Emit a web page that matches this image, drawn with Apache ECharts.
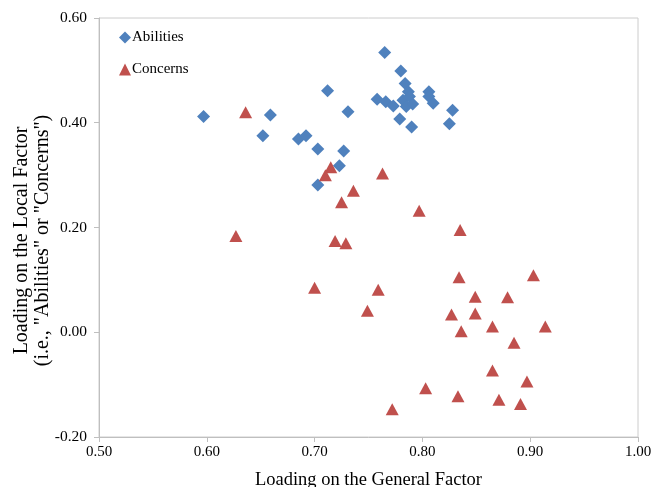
<!DOCTYPE html>
<html><head><meta charset="utf-8">
<script src="https://cdn.jsdelivr.net/npm/echarts@6/dist/echarts.min.js"></script>
<style>html,body{margin:0;padding:0;background:#fff}#c{width:655px;height:487px}</style>
</head><body><div id="c"></div>
<script>
const seriesNames = ['Abilities', 'Concerns'];
const xTicks = ['0.50','0.60','0.70','0.80','0.90','1.00'];
const yTicks = ['-0.20','0.00','0.20','0.40','0.60'];
const abilitiesX = [0.597,0.659,0.652,0.685,0.692,0.703,0.712,0.731,0.727,0.723,0.703,0.765,0.780,0.784,0.787,0.758,0.766,0.773,0.782,0.788,0.785,0.791,0.779,0.790,0.806,0.806,0.810,0.828,0.825];
const abilitiesY = [0.412,0.415,0.375,0.369,0.375,0.350,0.461,0.421,0.346,0.318,0.281,0.534,0.499,0.475,0.459,0.445,0.440,0.432,0.443,0.450,0.431,0.436,0.407,0.392,0.459,0.450,0.437,0.424,0.398];
const concernsX = [0.636,0.715,0.710,0.763,0.736,0.725,0.627,0.719,0.729,0.700,0.759,0.749,0.797,0.835,0.834,0.903,0.849,0.879,0.827,0.849,0.836,0.865,0.914,0.885,0.865,0.897,0.803,0.833,0.871,0.891,0.772];
const concernsY = [0.420,0.315,0.300,0.303,0.270,0.248,0.184,0.174,0.170,0.085,0.081,0.041,0.232,0.195,0.105,0.109,0.068,0.067,0.034,0.036,0.002,0.011,0.011,-0.020,-0.073,-0.094,-0.107,-0.122,-0.129,-0.137,-0.147];

const font = '"Liberation Serif", "Times New Roman", serif';
const pair = (xs, ys) => xs.map((x, i) => [x, ys[i]]);
const chart = echarts.init(document.getElementById('c'), null, {renderer: 'canvas'});
const axisLine = {show: true, onZero: false, lineStyle: {color: '#bfbfbf', width: 1}};
chart.setOption({
  animation: false,
  backgroundColor: '#fff',
  grid: {left: 99, right: 17, top: 18, bottom: 50, show: true, borderColor: '#cccccc', borderWidth: 1, containLabel: false, outerBoundsMode: 'none'},
  legend: {
    orient: 'vertical', left: 114, top: 25, itemGap: 17, itemWidth: 12, itemHeight: 12,
    textStyle: {fontFamily: font, fontSize: 15, color: '#000', padding: [0,0,0,-4]},
    data: [{name: seriesNames[0], icon: 'diamond'}, {name: seriesNames[1], icon: 'triangle'}]
  },
  xAxis: {
    type: 'value', min: 0.5, max: 1.0, interval: 0.1,
    name: 'Loading on the General Factor', nameLocation: 'middle', nameGap: 34,
    nameMoveOverlap: false,
    nameTextStyle: {fontFamily: font, fontSize: 18.5, color: '#000'},
    axisLine: axisLine,
    axisTick: {show: true, length: 5, inside: false, lineStyle: {color: '#bfbfbf'}},
    axisLabel: {fontFamily: font, fontSize: 15, color: '#000', margin: 8, formatter: (v) => xTicks[Math.round((v - 0.5) * 10)]},
    splitLine: {show: false}
  },
  yAxis: {
    type: 'value', min: -0.2, max: 0.6, interval: 0.2,
    name: 'Loading on the Local Factor\n(i.e., "Abilities" or "Concerns")', nameLocation: 'middle', nameGap: 46, nameRotate: 90,
    nameMoveOverlap: false,
    nameTextStyle: {fontFamily: font, fontSize: 20, color: '#000', lineHeight: 21, padding: [0, 26, 0, 0]},
    axisLine: axisLine,
    axisTick: {show: true, length: 5, inside: false, lineStyle: {color: '#bfbfbf'}},
    axisLabel: {fontFamily: font, fontSize: 15.5, color: '#000', margin: 12, formatter: (v) => yTicks[Math.round((v + 0.2) * 5)]},
    splitLine: {show: false}
  },
  series: [
    {name: seriesNames[0], type: 'scatter', symbol: 'diamond', symbolSize: 13, itemStyle: {color: '#4F81BD', opacity: 1}, data: pair(abilitiesX, abilitiesY)},
    {name: seriesNames[1], type: 'scatter', symbol: 'triangle', symbolSize: [13, 12], itemStyle: {color: '#C0504D', opacity: 1}, data: pair(concernsX, concernsY)}
  ]
});
</script></body></html>
